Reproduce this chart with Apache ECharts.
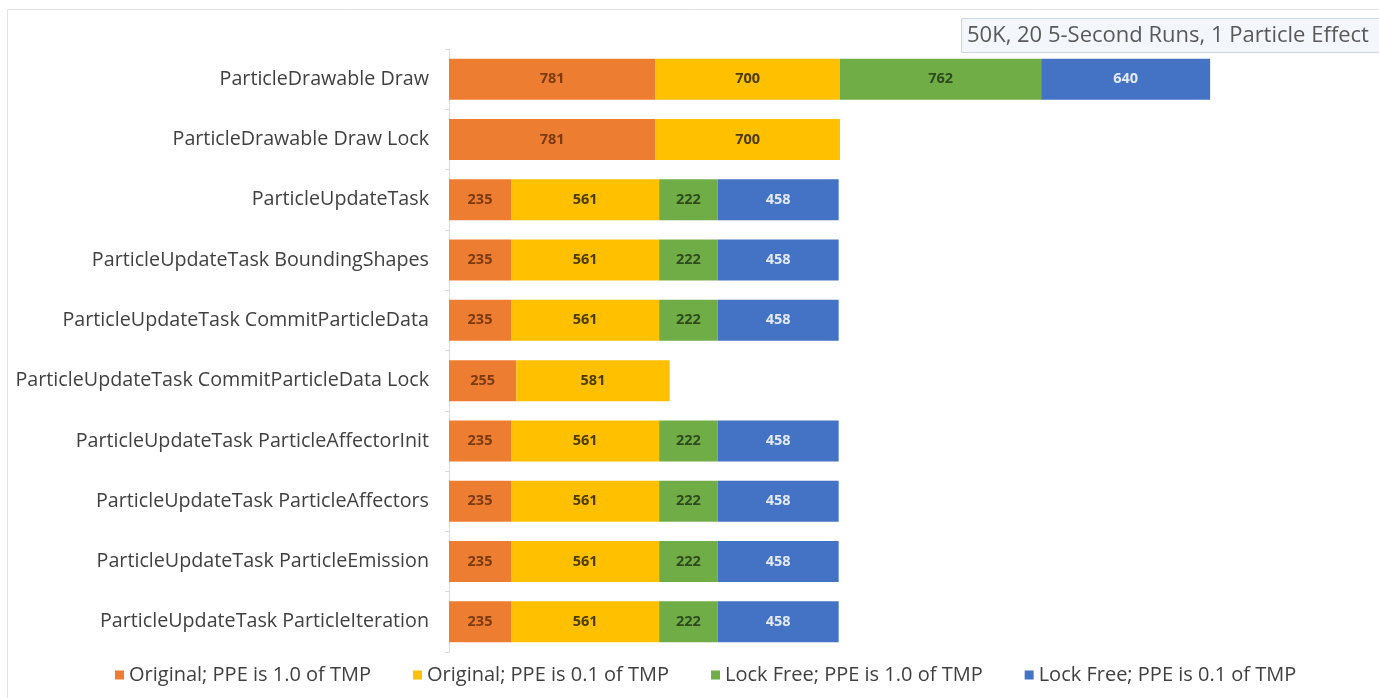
<!DOCTYPE html>
<html>
<head>
<meta charset="utf-8">
<script src="https://cdn.jsdelivr.net/npm/echarts@6/dist/echarts.min.js"></script>
<style>
  html, body { margin: 0; padding: 0; background: #fff; }
  #chart { width: 1379px; height: 698px; }
</style>
</head>
<body>
<div id="chart"></div>
<script>
var categories = [
  'ParticleDrawable Draw',
  'ParticleDrawable Draw Lock',
  'ParticleUpdateTask',
  'ParticleUpdateTask BoundingShapes',
  'ParticleUpdateTask CommitParticleData',
  'ParticleUpdateTask CommitParticleData Lock',
  'ParticleUpdateTask ParticleAffectorInit',
  'ParticleUpdateTask ParticleAffectors',
  'ParticleUpdateTask ParticleEmission',
  'ParticleUpdateTask ParticleIteration'
];
var seriesNames = [
  'Original; PPE is 1.0 of TMP',
  'Original; PPE is 0.1 of TMP',
  'Lock Free; PPE is 1.0 of TMP',
  'Lock Free; PPE is 0.1 of TMP'
];
var origFull = [781, 781, 235, 235, 235, 255, 235, 235, 235, 235];
var origTenth = [700, 700, 561, 561, 561, 581, 561, 561, 561, 561];
var lockFreeFull = [762, null, 222, 222, 222, null, 222, 222, 222, 222];
var lockFreeTenth = [640, null, 458, 458, 458, null, 458, 458, 458, 458];

var colors = ['#ED7D31', '#FFC000', '#70AD47', '#4472C4'];
var labelColors = ['#7B3A10', '#4A3B00', '#2F4A1E', '#E3EAF6'];
var values = [origFull, origTenth, lockFreeFull, lockFreeTenth];

var chart = echarts.init(document.getElementById('chart'));

var series = values.map(function (data, i) {
  return {
    name: seriesNames[i],
    type: 'bar',
    stack: 'total',
    data: data,
    barWidth: 41,
    itemStyle: { color: colors[i] },
    label: {
      show: true,
      position: 'inside',
      color: labelColors[i],
      fontSize: 14.5,
      fontWeight: 'bold',
      fontFamily: 'Open Sans'
    }
  };
});

var option = {
  backgroundColor: '#fff',
  animation: false,
  grid: { left: 449, right: 6, top: 49, bottom: 46 },
  legend: {
    bottom: 8,
    left: 110,
    itemWidth: 9,
    itemHeight: 9,
    itemGap: 42,
    icon: 'rect',
    data: seriesNames,
    textStyle: { fontSize: 20, color: '#404040', fontFamily: 'Open Sans' }
  },
  graphic: [
    {
      type: 'rect',
      shape: { x: 7.5, y: 9.5, width: 1380, height: 700 },
      style: { fill: 'none', stroke: '#e2e2e2', lineWidth: 1 },
      silent: true
    },
    {
      type: 'rect',
      shape: { x: 961.5, y: 18.5, width: 430, height: 34 },
      style: { fill: '#f3f6fb', stroke: '#cdd6e4', lineWidth: 1 },
      z: 10
    },
    {
      type: 'text',
      left: 967,
      top: 25,
      z: 11,
      style: {
        text: '50K, 20 5-Second Runs, 1 Particle Effect',
        fontSize: 22,
        fill: '#595959',
        fontFamily: 'Open Sans'
      }
    }
  ],
  xAxis: {
    type: 'value',
    min: 0,
    max: 3500,
    show: false
  },
  yAxis: {
    type: 'category',
    data: categories,
    inverse: true,
    axisLine: { show: true, lineStyle: { color: '#d9d9d9' } },
    axisTick: { show: true, length: 4, lineStyle: { color: '#d9d9d9' } },
    axisLabel: {
      fontSize: 19.7,
      color: '#404040',
      margin: 20,
      fontFamily: 'Open Sans'
    }
  },
  series: series
};

chart.setOption(option);
</script>
</body>
</html>
